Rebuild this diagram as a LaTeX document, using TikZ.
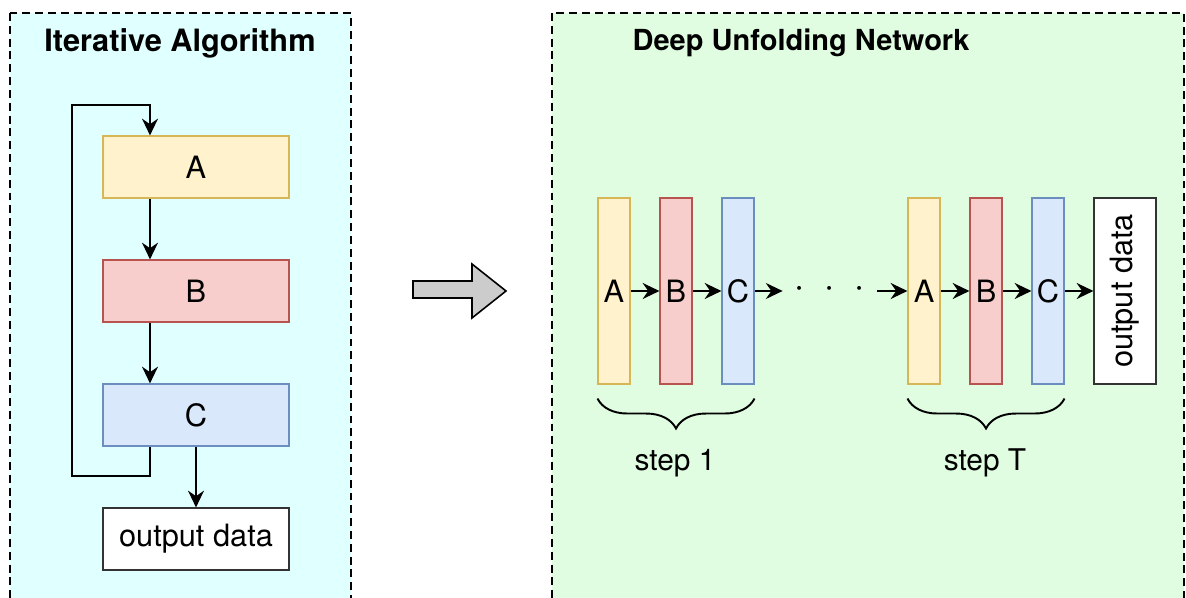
\documentclass[tikz,border=0pt]{standalone}
\usepackage{fontspec}
\setmainfont{TeX Gyre Heros}
\usepackage{graphicx}
\usepackage{tikz}
\usetikzlibrary{arrows.meta,calc,decorations.pathreplacing,positioning}
\definecolor{panelCyan}{HTML}{E0FFFF}
\definecolor{panelGreen}{HTML}{E1FDE1}
\definecolor{stageAFill}{HTML}{FFF2CC}
\definecolor{stageALine}{HTML}{D6B656}
\definecolor{stageBFill}{HTML}{F8CECC}
\definecolor{stageBLine}{HTML}{B85450}
\definecolor{stageCFill}{HTML}{DAE8FC}
\definecolor{stageCLine}{HTML}{6C8EBF}
\tikzset{
  unfoldPanel/.style={draw, line width=1.1pt, dash pattern=on 4.5pt off 2.8pt},
  unfoldTitle/.style={font=\bfseries\fontsize{17.5}{20}\selectfont, inner sep=2pt},
  unfoldStage/.style={draw, line width=0.6pt, minimum width=3.72cm, minimum height=1.24cm, inner sep=0pt, font=\fontsize{17.5}{20}\selectfont},
  unfoldLayer/.style={draw, line width=0.6pt, minimum width=0.64cm, minimum height=3.72cm, inner sep=0pt, font=\fontsize{17.5}{20}\selectfont},
  stageA/.style={fill=stageAFill, draw=stageALine},
  stageB/.style={fill=stageBFill, draw=stageBLine},
  stageC/.style={fill=stageCFill, draw=stageCLine},
  unfoldOutput/.style={fill=white, draw=black!80},
  unfoldArrow/.style={->, line width=1.5pt},
  unfoldLoop/.style={->, line width=1.6pt},
  unfoldBrace/.style={decorate, decoration={brace, mirror, amplitude=0.6cm}, line width=1.1pt},
  stepLabel/.style={font=\fontsize{17}{20}\selectfont, inner sep=1pt},
  gapDots/.style={minimum width=1.88cm, inner sep=0pt, font=\fontsize{20}{22}\selectfont}
}

\begin{document}
\begin{tikzpicture}[>={Stealth[length=9.5pt, width=9pt]}]
  \clip (0,0) rectangle (23.72,-11.96);
  \draw[unfoldPanel, fill=panelCyan] (0.2,-0.26) rectangle (7.02,-12.5);
  \draw[unfoldPanel, fill=panelGreen] (11.04,-0.26) rectangle (23.68,-12.5);
  \node[unfoldTitle] (iterTitle) at (3.6,-0.86) {Iterative Algorithm};
  \node[unfoldTitle, font=\bfseries\fontsize{16.5}{19}\selectfont] (dunTitle) at (16.02,-0.86) {Deep Unfolding Network};

  % iterative loop
  \node[unfoldStage, stageA] (A) at (3.92,-3.34) {A};
  \node[unfoldStage, stageB] (B) at (3.92,-5.82) {B};
  \node[unfoldStage, stageC] (C) at (3.92,-8.3) {C};
  \node[unfoldStage, unfoldOutput] (outL) at (3.92,-10.78) {output data};
  \coordinate (spine) at (3.0,-2.1);
  \coordinate (back) at (1.44,-9.52);
  \draw[unfoldArrow] (A.south -| spine) -- (B.north -| spine);
  \draw[unfoldArrow] (B.south -| spine) -- (C.north -| spine);
  \draw[unfoldArrow] (C) -- (outL);
  \draw[unfoldLoop] (C.south -| spine) |- (back) |- (spine) -- (A.north -| spine);

  % unfolding
  \draw[line width=0.9pt, fill=gray!40] (8.26,-5.62) -- (9.44,-5.62) -- (9.44,-5.28) -- (10.12,-5.82)
    -- (9.44,-6.36) -- (9.44,-5.96) -- (8.26,-5.96) -- cycle;

  % unfolded layers
  \node[unfoldLayer, stageA] (A1) at (12.28,-5.82) {A};
  \node[unfoldLayer, stageB] (B1) at (13.52,-5.82) {B};
  \node[unfoldLayer, stageC] (C1) at (14.76,-5.82) {C};
  \node[gapDots] (gap) at (16.6,-5.78) {$\cdot$\hspace{0.4cm}$\cdot$\hspace{0.4cm}$\cdot$};
  \node[unfoldLayer, stageA] (AT) at (18.48,-5.82) {A};
  \node[unfoldLayer, stageB] (BT) at (19.72,-5.82) {B};
  \node[unfoldLayer, stageC] (CT) at (20.96,-5.82) {C};
  \node[unfoldLayer, unfoldOutput, minimum width=1.24cm] (outT) at (22.5,-5.82) {\rotatebox{90}{output data}};
  \draw[unfoldArrow] (A1) -- (B1);
  \draw[unfoldArrow] (B1) -- (C1);
  \draw[unfoldArrow] (C1) -- (gap.west |- C1);
  \draw[unfoldArrow] (gap.east |- AT) -- (AT);
  \draw[unfoldArrow] (AT) -- (BT);
  \draw[unfoldArrow] (BT) -- (CT);
  \draw[unfoldArrow] (CT) -- (outT);

  \draw[unfoldBrace] ([yshift=-0.28cm]A1.south west) -- ([yshift=-0.28cm]C1.south east);
  \draw[unfoldBrace] ([yshift=-0.28cm]AT.south west) -- ([yshift=-0.28cm]CT.south east);
  \node[stepLabel] (step1) at (13.5,-9.26) {step 1};
  \node[stepLabel] (stepT) at (19.7,-9.26) {step T};
\end{tikzpicture}
\end{document}
